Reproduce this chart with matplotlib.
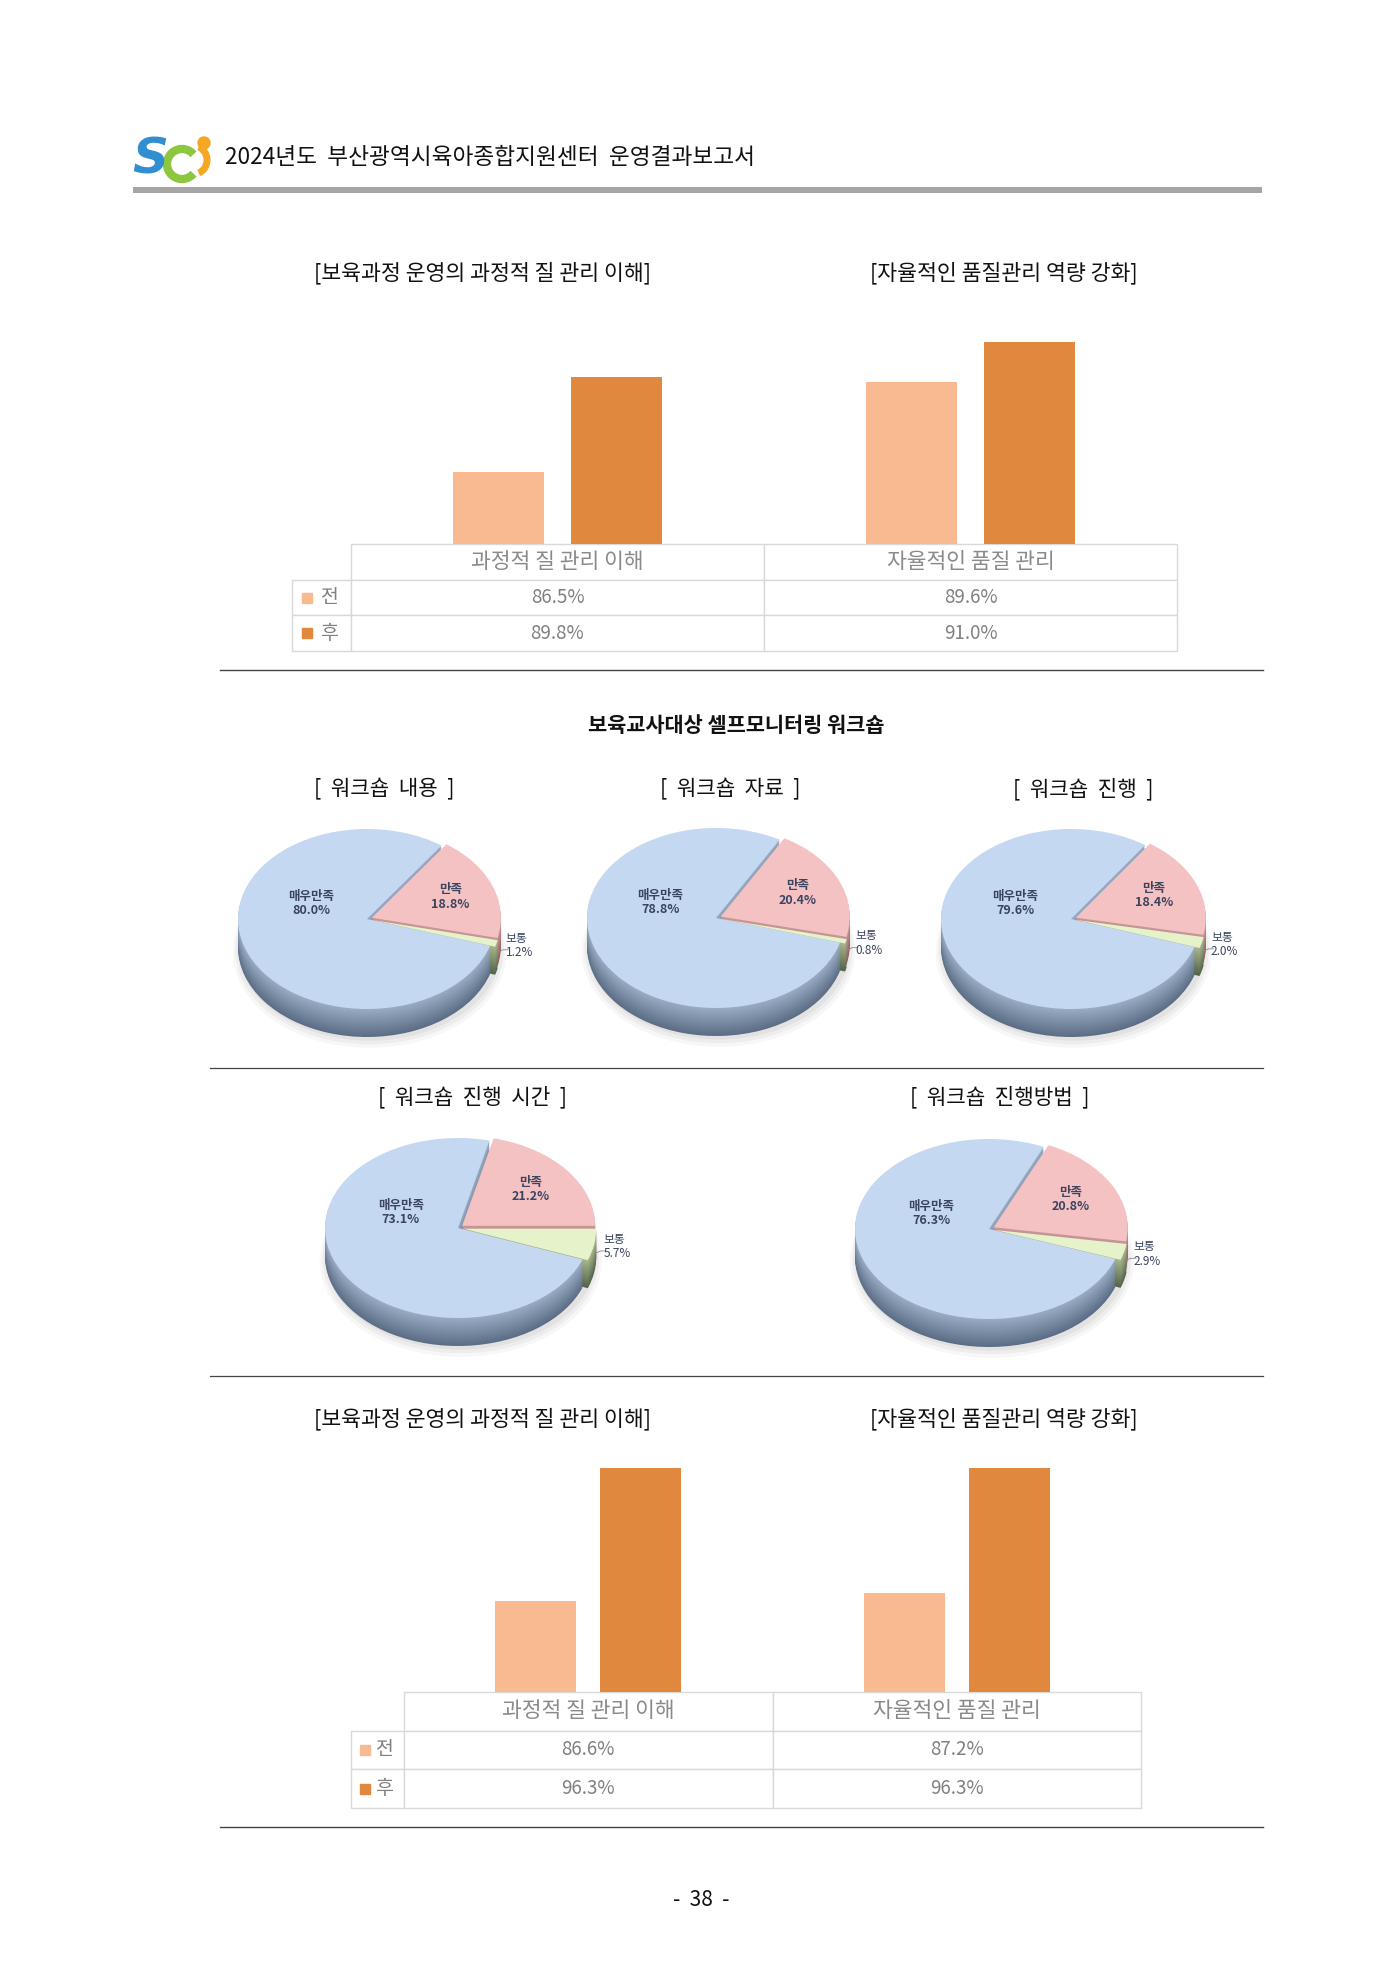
import numpy as np
import matplotlib.pyplot as plt
from matplotlib.table import Table
from matplotlib.patches import Rectangle, Circle, Ellipse, Arc
from matplotlib.colors import to_rgb

plt.rcParams['font.family'] = ['Noto Sans CJK KR', 'DejaVu Sans']

W, H = 1400, 1980

# ---- data ----
header_title = '2024년도  부산광역시육아종합지원센터  운영결과보고서'
bar_titles = ['[보육과정 운영의 과정적 질 관리 이해]', '[자율적인 품질관리 역량 강화]']
bar_categories = ['과정적 질 관리 이해', '자율적인 품질 관리']
bar_series = ['전', '후']
top_before = [86.5, 89.6]
top_after = [89.8, 91.0]
bottom_before = [86.6, 87.2]
bottom_after = [96.3, 96.3]

workshop_title = '보육교사대상 셀프모니터링 워크숍'
pie_titles = ['[ 워크숍 내용 ]', '[ 워크숍 자료 ]', '[ 워크숍 진행 ]',
              '[ 워크숍 진행 시간 ]', '[ 워크숍 진행방법 ]']
pie_labels = ['매우만족', '만족', '보통']
very_satisfied = [80.0, 78.8, 79.6, 73.1, 76.3]
satisfied = [18.8, 20.4, 18.4, 21.2, 20.8]
neutral = [1.2, 0.8, 2.0, 5.7, 2.9]
page_number = '-  38  -'

# ---- style ----
LIGHT = '#F9B991'
DARK = '#E0883E'
GRID = '#D9D9D9'
TXT = '#808080'
PIE_TOP = ['#F4C2C2', '#C4D8F1', '#E6F2CA']      # 만족, 매우만족, 보통
PIE_SIDE_HI = ['#C99A9A', '#9AADC4', '#A9B88E']
PIE_SIDE_LO = ['#8E5E5E', '#5C6E86', '#56654A']
LABEL_C = '#3A4460'

fig = plt.figure(figsize=(W / 100, H / 100), dpi=100)
page = fig.add_axes([0, 0, 1, 1])
page.set_xlim(0, W)
page.set_ylim(H, 0)
page.axis('off')


def frac(x0, y0, x1, y1):
    return [x0 / W, 1 - y1 / H, (x1 - x0) / W, (y1 - y0) / H]


def mix(c1, c2, f):
    a, b = np.array(to_rgb(c1)), np.array(to_rgb(c2))
    return tuple(a * (1 - f) + b * f)


def bar_panel(x0, x1, y_top, y_base, y_tab, x_leg, ylim, before, after):
    ax = fig.add_axes(frac(x0, y_top, x1, y_base))
    x = np.arange(len(bar_categories))
    ax.bar(x - 0.142, before, 0.22, color=LIGHT)
    ax.bar(x + 0.142, after, 0.22, color=DARK)
    ax.set_xlim(-0.5, len(x) - 0.5)
    ax.set_ylim(*ylim)
    ax.axis('off')

    th = (y_tab - y_base) / (y_base - y_top)
    lw = (x0 - x_leg) / (x1 - x0)
    rh = th / 3
    tbl = Table(ax, bbox=[0, -th, 1, th])
    tbl.auto_set_font_size(False)
    for j, cat in enumerate(bar_categories):
        c = tbl.add_cell(0, j, 1 / len(x), rh, text=cat, loc='center', edgecolor=GRID)
        c.get_text().set(color='#8A8A8A', fontsize=15.5)
        for i, vals in enumerate([before, after]):
            c = tbl.add_cell(i + 1, j, 1 / len(x), rh, text=f'{vals[j]:.1f}%',
                             loc='center', edgecolor=GRID)
            c.get_text().set(color=TXT, fontsize=13.5)
    for i, (name, col) in enumerate(zip(bar_series, [LIGHT, DARK])):
        tbl.add_cell(i + 1, -1, lw, rh, edgecolor=GRID)
        yc = -rh * (i + 1.5)
        ax.plot([-lw * 0.74], [yc], marker='s', ms=6.5, color=col,
                transform=ax.transAxes, clip_on=False)
        ax.text(-lw * 0.36, yc, name, transform=ax.transAxes, ha='center',
                va='center', fontsize=14, color=TXT)
    ax.add_table(tbl)


def pie_panel(k, cx, cy, rx, ry, thick, start):
    vals = [satisfied[k], very_satisfied[k], neutral[k]]
    ax = fig.add_axes(frac(cx - 1.6 * rx, cy - 1.3 * ry, cx + 1.6 * rx, cy + 1.7 * ry))
    t = thick / ry
    explode = [0.04, 0, 0.04]
    for d, a in [(0.12, 0.08), (0.08, 0.10), (0.04, 0.12)]:
        ax.add_patch(Ellipse((0.02, -t - d * 0.5), 2 + d, 2 + d,
                             color='#9a9a9a', alpha=a, lw=0))
    n = 18
    for i in range(n, 0, -1):
        f = i / n
        cols = [mix(hi, lo, f) for hi, lo in zip(PIE_SIDE_HI, PIE_SIDE_LO)]
        ax.pie(vals, colors=cols, startangle=start, explode=explode,
               center=(0, -t * f), wedgeprops=dict(lw=0))
    ax.pie(vals, colors=PIE_TOP, startangle=start, explode=explode,
           wedgeprops=dict(lw=0))
    ax.set_aspect('auto')
    ax.set_xlim(-1.6, 1.6)
    ax.set_ylim(-1.7, 1.3)
    ax.axis('off')

    kw = dict(ha='center', va='center', fontsize=9, color=LABEL_C,
              linespacing=1.15, fontweight='bold')
    ax.text(-0.43, 0.17, f'{pie_labels[0]}\n{very_satisfied[k]:.1f}%', **kw)
    a_p = np.deg2rad(start + vals[0] * 1.8)
    ax.text(0.69 * np.cos(a_p), 0.69 * np.sin(a_p),
            f'{pie_labels[1]}\n{satisfied[k]:.1f}%', **kw)
    a_n = np.deg2rad(start - vals[2] * 1.8)
    ex, ey = 1.04 * np.cos(a_n), 1.04 * np.sin(a_n)
    lx, ly = ex + 0.05, ey - 0.02
    ax.plot([ex, lx, lx + 0.04], [ey - 0.1, ly - 0.05, ly - 0.05], color='#888888', lw=0.6)
    ax.text(lx + 0.02, ly, f'{pie_labels[2]}\n{neutral[k]:.1f}%',
            ha='left', va='center', fontsize=8.5, color=LABEL_C, linespacing=1.15)


# ---- header ----
page.text(150, 160, 'S', fontsize=36, color='#2F8FD0', fontweight='bold',
          style='italic', family='DejaVu Sans', ha='center', va='center')
page.add_patch(Arc((182, 164), 30, 30, theta1=40, theta2=320, lw=6, color='#8DC63F'))
page.add_patch(Circle((204, 143), 6, color='#F5A623'))
page.add_patch(Arc((194, 160), 26, 28, theta1=-70, theta2=70, lw=5, color='#F5A623'))
page.text(225, 158, header_title, fontsize=16.3, color='#111111', ha='left', va='center')
page.add_patch(Rectangle((133, 187), 1129, 6, color='#A5A5A5', lw=0))

# ---- top bar charts ----
page.text(482, 273, bar_titles[0], fontsize=15.6, ha='center', va='center', color='#111111')
page.text(1004, 273, bar_titles[1], fontsize=15.6, ha='center', va='center', color='#111111')
bar_panel(351, 1177, 313, 544, 651, 292, (84, 92), top_before, top_after)
page.plot([220, 1263], [670, 670], color='#444444', lw=1.0)

# ---- pies ----
page.text(736, 725, workshop_title, fontsize=15, fontweight='bold',
          ha='center', va='center', color='#111111')
title_pos = [(384, 789), (730, 789), (1083, 789), (473, 1097), (1000, 1097)]
for (tx, ty), title in zip(title_pos, pie_titles):
    page.text(tx, ty, title.replace(' ', '  '), fontsize=15.3, ha='center',
              va='center', color='#111111')

pie_geom = [(367, 919, 129), (716, 918, 129), (1071, 919, 130),
            (458, 1228, 133), (989, 1229, 134)]
start_angles = [-13, -13, -11, 0, -9]
for k, ((cx, cy, rx), st) in enumerate(zip(pie_geom, start_angles)):
    pie_panel(k, cx, cy, rx, 90, 28, st)

page.plot([210, 1263], [1068, 1068], color='#444444', lw=0.9)
page.plot([210, 1263], [1376, 1376], color='#444444', lw=0.9)

# ---- bottom bar charts ----
page.text(482, 1419, bar_titles[0], fontsize=15.6, ha='center', va='center', color='#111111')
page.text(1004, 1419, bar_titles[1], fontsize=15.6, ha='center', va='center', color='#111111')
bar_panel(404, 1141, 1445, 1692, 1808, 351, (80, 98), bottom_before, bottom_after)
page.plot([220, 1263], [1827, 1827], color='#444444', lw=1.0)

page.text(701, 1900, page_number, fontsize=15, ha='center', va='center', color='#111111')

fig.savefig('out.png', dpi=100, facecolor='white')
